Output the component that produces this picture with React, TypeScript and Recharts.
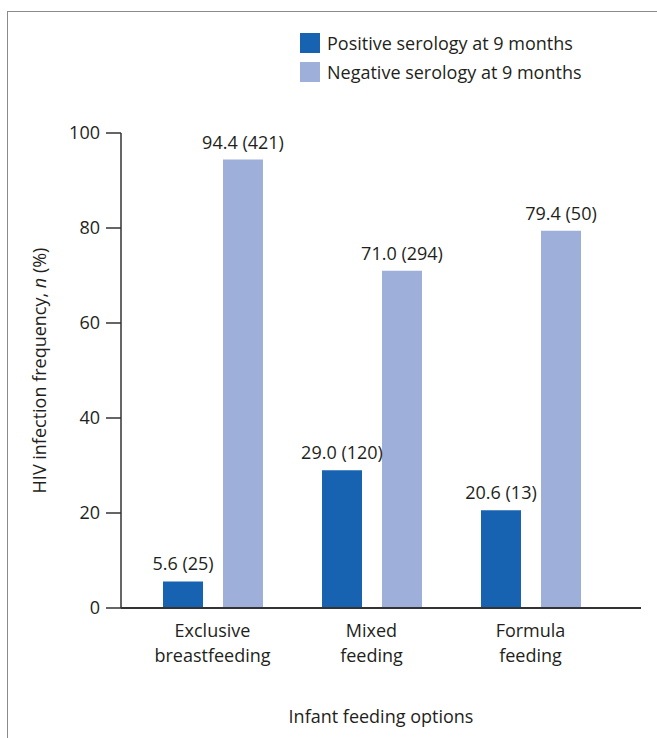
import { BarChart, Bar, XAxis, YAxis, LabelList, Legend } from "recharts";

const categories = ["Exclusive\nbreastfeeding", "Mixed\nfeeding", "Formula\nfeeding"];
const positive = [5.6, 29.0, 20.6];
const positiveN = [25, 120, 13];
const negative = [94.4, 71.0, 79.4];
const negativeN = [421, 294, 50];
const yTicks = [0, 20, 40, 60, 80, 100];

const POS = "#1763b2";
const NEG = "#9eafd9";
const INK = "#231f20";
const FONT = "'Open Sans', sans-serif";
const FS = 18;

const data = categories.map((c, i) => ({
  name: c,
  pos: positive[i],
  posLabel: `${positive[i].toFixed(1)} (${positiveN[i]})`,
  neg: negative[i],
  negLabel: `${negative[i].toFixed(1)} (${negativeN[i]})`,
}));

const CatTick = ({ x, y, payload }: any) => {
  const lines = String(payload.value).split("\n");
  return (
    <text x={x} y={y} textAnchor="middle" fill={INK} fontSize={FS} fontFamily={FONT}>
      {lines.map((l, i) => (
        <tspan key={i} x={x} dy={i === 0 ? 21 : 25}>
          {l}
        </tspan>
      ))}
    </text>
  );
};

const BarValue = ({ x, y, width, value }: any) => (
  <text x={x + width / 2} y={y - 11} textAnchor="middle" fill={INK} fontSize={FS} fontFamily={FONT}>
    {value}
  </text>
);

const YLabel = ({ viewBox }: any) => {
  const cx = 46;
  const cy = viewBox.y + viewBox.height / 2;
  return (
    <text
      x={cx}
      y={cy}
      transform={`rotate(-90 ${cx} ${cy})`}
      textAnchor="middle"
      fill={INK}
      fontSize={FS}
      fontFamily={FONT}
    >
      HIV infection frequency, <tspan fontStyle="italic">n</tspan> (%)
    </text>
  );
};

const LegendBox = () => (
  <div style={{ fontFamily: FONT, fontSize: FS, color: INK }}>
    {[
      { c: POS, t: "Positive serology at 9 months" },
      { c: NEG, t: "Negative serology at 9 months" },
    ].map((e) => (
      <div key={e.t} style={{ display: "flex", alignItems: "center", height: 29 }}>
        <span style={{ width: 20, height: 20, background: e.c, marginRight: 7, display: "inline-block" }} />
        <span>{e.t}</span>
      </div>
    ))}
  </div>
);

export default function App() {
  return (
    <div style={{ position: "absolute", left: 0, top: 0, width: 657, height: 738, background: "#fff" }}>
      <div
        style={{
          position: "absolute",
          left: 7,
          top: 11,
          width: 700,
          height: 800,
          borderLeft: "1.5px solid #8a8a8a",
          borderTop: "1.5px solid #8a8a8a",
        }}
      />
      <BarChart
        width={657}
        height={738}
        data={data}
        margin={{ top: 133, right: 16, bottom: 15, left: 50 }}
        barSize={40}
        barGap={20}
        style={{ position: "absolute", left: 0, top: 0 }}
      >
        <Legend
          layout="vertical"
          align="center"
          verticalAlign="middle"
          content={<LegendBox />}
          wrapperStyle={{ position: "absolute", left: 300, top: 28, width: 350 }}
        />
        <XAxis
          dataKey="name"
          tick={<CatTick />}
          tickLine={false}
          axisLine={{ stroke: "#333", strokeWidth: 2 }}
          padding={{ left: 12, right: 31 }}
          height={115}
          interval={0}
          label={{
            value: "Infant feeding options",
            position: "insideBottom",
            offset: 0,
            fill: INK,
            fontSize: FS,
            fontFamily: FONT,
          }}
        />
        <YAxis
          width={71}
          domain={[0, 100]}
          ticks={yTicks}
          tickSize={15}
          tickMargin={6}
          tickLine={{ stroke: "#333", strokeWidth: 1.5 }}
          axisLine={{ stroke: "#333", strokeWidth: 1.5 }}
          tick={{ fill: INK, fontSize: FS, fontFamily: FONT }}
          label={<YLabel />}
        />
        <Bar dataKey="pos" fill={POS} isAnimationActive={false}>
          <LabelList dataKey="posLabel" content={<BarValue />} />
        </Bar>
        <Bar dataKey="neg" fill={NEG} isAnimationActive={false}>
          <LabelList dataKey="negLabel" content={<BarValue />} />
        </Bar>
      </BarChart>
    </div>
  );
}
